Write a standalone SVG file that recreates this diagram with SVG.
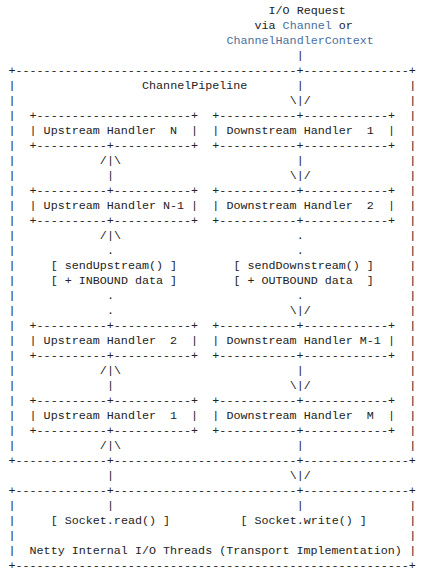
<svg xmlns="http://www.w3.org/2000/svg" width="433" height="583" viewBox="0 0 433 583">
<style>
text{font-family:"Liberation Mono","DejaVu Sans Mono",monospace;font-size:11.717px;fill:#222;white-space:pre}
.b{fill:#4a6fa0}
</style>
<rect width="433" height="583" fill="#fff"/>
<g id="request">
<text x="268.59" y="14">I/O Request</text>
<text x="254.53" y="29">via <tspan class="b">Channel</tspan> or</text>
<text x="226.41" y="44" class="b">ChannelHandlerContext</text>
</g>
<g id="pipeline">
<text x="8.48" y="74">+----------------------------------------+---------------+</text>
<text x="142.05" y="89">ChannelPipeline</text>
<text x="8.48" y="464">+-------------+--------------------------+---------------+</text>
<text><tspan x="8.48" y="89">|</tspan><tspan x="8.48" y="104">|</tspan><tspan x="8.48" y="119">|</tspan><tspan x="8.48" y="134">|</tspan><tspan x="8.48" y="149">|</tspan><tspan x="8.48" y="164">|</tspan><tspan x="8.48" y="179">|</tspan><tspan x="8.48" y="194">|</tspan><tspan x="8.48" y="209">|</tspan><tspan x="8.48" y="224">|</tspan><tspan x="8.48" y="239">|</tspan><tspan x="8.48" y="254">|</tspan><tspan x="8.48" y="269">|</tspan><tspan x="8.48" y="284">|</tspan><tspan x="8.48" y="299">|</tspan><tspan x="8.48" y="314">|</tspan><tspan x="8.48" y="329">|</tspan><tspan x="8.48" y="344">|</tspan><tspan x="8.48" y="359">|</tspan><tspan x="8.48" y="374">|</tspan><tspan x="8.48" y="389">|</tspan><tspan x="8.48" y="404">|</tspan><tspan x="8.48" y="419">|</tspan><tspan x="8.48" y="434">|</tspan><tspan x="8.48" y="449">|</tspan></text>
<text><tspan x="409.19" y="89">|</tspan><tspan x="409.19" y="104">|</tspan><tspan x="409.19" y="119">|</tspan><tspan x="409.19" y="134">|</tspan><tspan x="409.19" y="149">|</tspan><tspan x="409.19" y="164">|</tspan><tspan x="409.19" y="179">|</tspan><tspan x="409.19" y="194">|</tspan><tspan x="409.19" y="209">|</tspan><tspan x="409.19" y="224">|</tspan><tspan x="409.19" y="239">|</tspan><tspan x="409.19" y="254">|</tspan><tspan x="409.19" y="269">|</tspan><tspan x="409.19" y="284">|</tspan><tspan x="409.19" y="299">|</tspan><tspan x="409.19" y="314">|</tspan><tspan x="409.19" y="329">|</tspan><tspan x="409.19" y="344">|</tspan><tspan x="409.19" y="359">|</tspan><tspan x="409.19" y="374">|</tspan><tspan x="409.19" y="389">|</tspan><tspan x="409.19" y="404">|</tspan><tspan x="409.19" y="419">|</tspan><tspan x="409.19" y="434">|</tspan><tspan x="409.19" y="449">|</tspan></text>
</g>
<g id="upN">
<text x="29.57" y="119">+----------------------+</text>
<text x="29.57" y="134">| Upstream Handler  N  |</text>
<text x="29.57" y="149">+----------+-----------+</text>
</g>
<g id="upN1">
<text x="29.57" y="194">+----------+-----------+</text>
<text x="29.57" y="209">| Upstream Handler N-1 |</text>
<text x="29.57" y="224">+----------+-----------+</text>
</g>
<g id="up2">
<text x="29.57" y="329">+----------+-----------+</text>
<text x="29.57" y="344">| Upstream Handler  2  |</text>
<text x="29.57" y="359">+----------+-----------+</text>
</g>
<g id="up1">
<text x="29.57" y="404">+----------+-----------+</text>
<text x="29.57" y="419">| Upstream Handler  1  |</text>
<text x="29.57" y="434">+----------+-----------+</text>
</g>
<g id="down1">
<text x="212.35" y="119">+-----------+------------+</text>
<text x="212.35" y="134">| Downstream Handler  1  |</text>
<text x="212.35" y="149">+-----------+------------+</text>
</g>
<g id="down2">
<text x="212.35" y="194">+-----------+------------+</text>
<text x="212.35" y="209">| Downstream Handler  2  |</text>
<text x="212.35" y="224">+-----------+------------+</text>
</g>
<g id="downM1">
<text x="212.35" y="329">+-----------+------------+</text>
<text x="212.35" y="344">| Downstream Handler M-1 |</text>
<text x="212.35" y="359">+-----------+------------+</text>
</g>
<g id="downM">
<text x="212.35" y="404">+-----------+------------+</text>
<text x="212.35" y="419">| Downstream Handler  M  |</text>
<text x="212.35" y="434">+-----------+------------+</text>
</g>
<g id="transport">
<text x="8.48" y="494">+-------------+--------------------------+---------------+</text>
<text x="8.48" y="509">|</text><text x="409.19" y="509">|</text>
<text x="8.48" y="524">|</text><text x="409.19" y="524">|</text>
<text x="8.48" y="539">|</text><text x="409.19" y="539">|</text>
<text x="8.48" y="554">|</text><text x="409.19" y="554">|</text>
<text x="50.66" y="524">[ Socket.read() ]</text>
<text x="240.47" y="524">[ Socket.write() ]</text>
<text x="29.57" y="554">Netty Internal I/O Threads (Transport Implementation)</text>
<text x="8.48" y="569">+--------------------------------------------------------+</text>
</g>
<g id="connectors">
<text x="296.71" y="59">|</text>
<text x="296.71" y="89">|</text>
<text x="289.68" y="104">\|/</text>
<text x="99.87" y="164">/|\</text><text x="296.71" y="164">|</text>
<text x="106.9" y="179">|</text><text x="289.68" y="179">\|/</text>
<text x="99.87" y="239">/|\</text><text x="296.71" y="239">.</text>
<text x="106.9" y="254">.</text><text x="296.71" y="254">.</text>
<text x="50.66" y="269">[ sendUpstream() ]</text><text x="233.44" y="269">[ sendDownstream() ]</text>
<text x="50.66" y="284">[ + INBOUND data ]</text><text x="233.44" y="284">[ + OUTBOUND data  ]</text>
<text x="106.9" y="299">.</text><text x="296.71" y="299">.</text>
<text x="106.9" y="314">.</text><text x="289.68" y="314">\|/</text>
<text x="99.87" y="374">/|\</text><text x="296.71" y="374">|</text>
<text x="106.9" y="389">|</text><text x="289.68" y="389">\|/</text>
<text x="99.87" y="449">/|\</text><text x="296.71" y="449">|</text>
<text x="106.9" y="479">|</text><text x="289.68" y="479">\|/</text>
<text x="106.9" y="509">|</text><text x="296.71" y="509">|</text>
</g>
</svg>
